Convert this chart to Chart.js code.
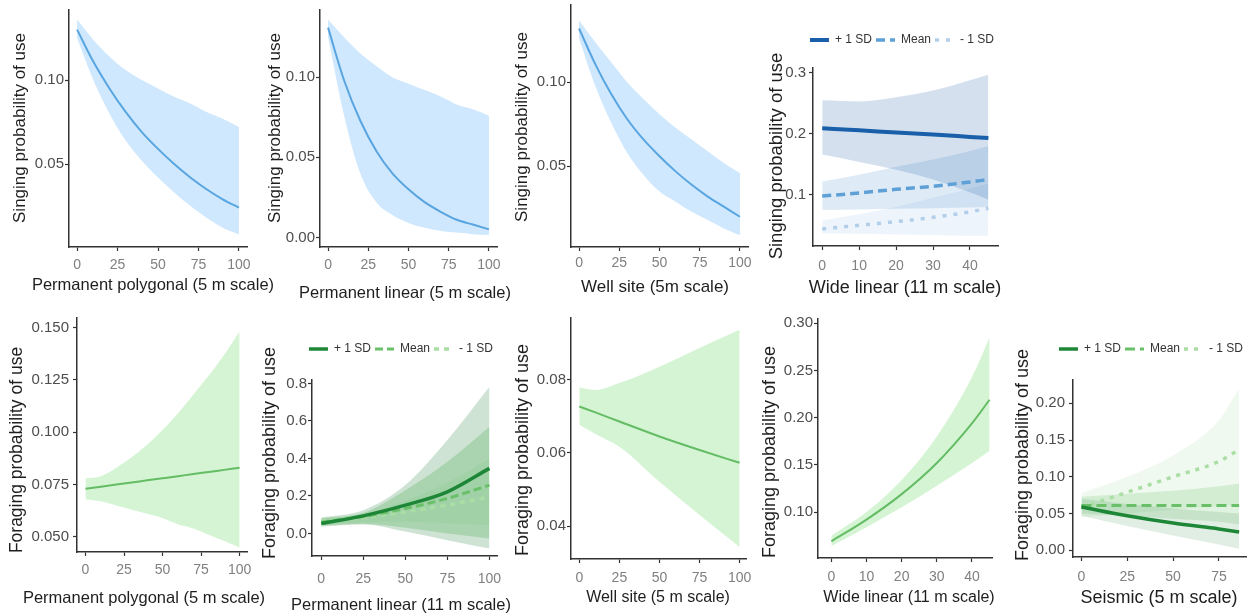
<!DOCTYPE html>
<html><head><meta charset="utf-8">
<script src="https://cdn.jsdelivr.net/npm/chart.js@4/dist/chart.umd.min.js"></script>
<style>
html,body{margin:0;padding:0;background:#fff;}
#wrap{position:relative;width:1247px;height:616px;overflow:hidden;background:#fff}
#wrap canvas{position:absolute;left:0;top:0}
</style></head><body>
<div id="wrap"></div>
<script>
// ================= DATA =================
// text
const legendLabels = ['+ 1 SD', 'Mean', '- 1 SD'];
const yTitleSing = 'Singing probability of use';
const yTitleForage = 'Foraging probability of use';
const xTitles = [
  'Permanent polygonal (5 m scale)', 'Permanent linear (5 m scale)', 'Well site (5m scale)',
  'Wide linear (11 m scale)', 'Permanent polygonal (5 m scale)', 'Permanent linear (11 m scale)',
  'Well site (5 m scale)', 'Wide linear (11 m scale)', 'Seismic (5 m scale)'
];

// tick values
const xTicks100 = [0, 25, 50, 75, 100];
const xTicks40 = [0, 10, 20, 30, 40];
const xTicks75 = [0, 25, 50, 75];
const yTicksP1 = [0.05, 0.10];
const yTicksP2 = [0.00, 0.05, 0.10];
const yTicksP3 = [0.05, 0.10];
const yTicksP4 = [0.1, 0.2, 0.3];
const yTicksP5 = [0.050, 0.075, 0.100, 0.125, 0.150];
const yTicksP6 = [0.0, 0.2, 0.4, 0.6, 0.8];
const yTicksP7 = [0.04, 0.06, 0.08];
const yTicksP8 = [0.10, 0.15, 0.20, 0.25, 0.30];
const yTicksP9 = [0.00, 0.05, 0.10, 0.15, 0.20];

// Panel 1: singing ~ permanent polygonal
const p1X   = [0, 10, 20, 30, 40, 50, 60, 70, 80, 90, 100];
const p1Fit = [0.130, 0.111, 0.095, 0.081, 0.069, 0.059, 0.050, 0.042, 0.035, 0.029, 0.024];
const p1Hi  = [0.136, 0.124, 0.114, 0.106, 0.100, 0.095, 0.090, 0.086, 0.081, 0.077, 0.072];
const p1Lo  = [0.125, 0.100, 0.080, 0.064, 0.052, 0.042, 0.033, 0.025, 0.018, 0.012, 0.008];

// Panel 2: singing ~ permanent linear
const p2X   = [0, 10, 20, 30, 40, 50, 60, 70, 80, 90, 100];
const p2Fit = [0.131, 0.098, 0.073, 0.054, 0.040, 0.030, 0.022, 0.016, 0.011, 0.008, 0.005];
const p2Hi  = [0.136, 0.125, 0.115, 0.107, 0.100, 0.096, 0.092, 0.088, 0.083, 0.080, 0.076];
const p2Lo  = [0.125, 0.076, 0.040, 0.022, 0.014, 0.009, 0.006, 0.004, 0.003, 0.002, 0.0015];

// Panel 3: singing ~ well site
const p3X   = [0, 10, 20, 30, 40, 50, 60, 70, 80, 90, 100];
const p3Fit = [0.132, 0.111, 0.093, 0.078, 0.066, 0.056, 0.047, 0.039, 0.032, 0.026, 0.020];
const p3Hi  = [0.137, 0.124, 0.112, 0.100, 0.090, 0.081, 0.073, 0.066, 0.059, 0.052, 0.046];
const p3Lo  = [0.126, 0.098, 0.076, 0.058, 0.045, 0.035, 0.029, 0.023, 0.018, 0.013, 0.009];

// Panel 4: singing ~ wide linear, by +1 SD / mean / -1 SD
const p4X        = [0, 10, 20, 30, 40, 45];
const p4PlusFit  = [0.209, 0.206, 0.202, 0.199, 0.195, 0.193];
const p4MeanFit  = [0.098, 0.103, 0.109, 0.114, 0.121, 0.125];
const p4MinusFit = [0.044, 0.050, 0.056, 0.063, 0.072, 0.078];
const p4PlusHi   = [0.255, 0.253, 0.260, 0.271, 0.288, 0.297];
const p4PlusLo   = [0.166, 0.154, 0.141, 0.125, 0.104, 0.092];
const p4MeanHi   = [0.122, 0.133, 0.146, 0.158, 0.172, 0.180];
const p4MeanLo   = [0.075, 0.076, 0.077, 0.078, 0.079, 0.080];
const p4MinusHi  = [0.058, 0.068, 0.080, 0.095, 0.110, 0.118];
const p4MinusLo  = [0.037, 0.036, 0.035, 0.034, 0.033, 0.033];

// Panel 5: foraging ~ permanent polygonal
const p5X   = [0, 10, 20, 30, 40, 50, 60, 70, 80, 90, 100];
const p5Fit = [0.073, 0.074, 0.075, 0.076, 0.077, 0.078, 0.079, 0.080, 0.081, 0.082, 0.083];
const p5Hi  = [0.078, 0.079, 0.083, 0.088, 0.094, 0.101, 0.109, 0.118, 0.127, 0.137, 0.148];
const p5Lo  = [0.068, 0.067, 0.065, 0.063, 0.061, 0.059, 0.056, 0.054, 0.051, 0.048, 0.045];

// Panel 6: foraging ~ permanent linear (11 m), by SD groups
const p6X        = [0, 25, 50, 75, 100];
const p6PlusFit  = [0.053, 0.094, 0.151, 0.222, 0.347];
const p6MeanFit  = [0.060, 0.090, 0.133, 0.187, 0.258];
const p6MinusFit = [0.065, 0.085, 0.115, 0.151, 0.195];
const p6PlusHi   = [0.085, 0.124, 0.258, 0.498, 0.782];
const p6PlusLo   = [0.037, 0.048, 0.010, -0.036, -0.080];
const p6MeanHi   = [0.080, 0.110, 0.231, 0.382, 0.569];
const p6MeanLo   = [0.042, 0.052, 0.030, 0.000, -0.027];
const p6MinusHi  = [0.078, 0.105, 0.175, 0.270, 0.400];
const p6MinusLo  = [0.048, 0.060, 0.062, 0.055, 0.045];

// Panel 7: foraging ~ well site
const p7X   = [0, 10, 25, 50, 75, 100];
const p7Fit = [0.0727, 0.0711, 0.0686, 0.0645, 0.0608, 0.0573];
const p7Hi  = [0.0779, 0.0772, 0.0791, 0.0836, 0.0887, 0.0937];
const p7Lo  = [0.0677, 0.0652, 0.0617, 0.0521, 0.0430, 0.0343];

// Panel 8: foraging ~ wide linear
const p8X   = [0, 10, 20, 30, 40, 45];
const p8Fit = [0.069, 0.092, 0.119, 0.152, 0.194, 0.219];
const p8Hi  = [0.075, 0.100, 0.134, 0.180, 0.243, 0.285];
const p8Lo  = [0.064, 0.084, 0.105, 0.128, 0.152, 0.165];

// Panel 9: foraging ~ seismic, by SD groups
const p9X        = [0, 25, 50, 75, 86];
const p9PlusFit  = [0.059, 0.047, 0.037, 0.029, 0.025];
const p9MeanFit  = [0.061, 0.061, 0.061, 0.061, 0.061];
const p9MinusFit = [0.058, 0.079, 0.100, 0.121, 0.137];
const p9PlusHi   = [0.070, 0.063, 0.057, 0.052, 0.050];
const p9PlusLo   = [0.047, 0.033, 0.020, 0.008, 0.002];
const p9MeanHi   = [0.073, 0.077, 0.081, 0.087, 0.091];
const p9MeanLo   = [0.050, 0.047, 0.043, 0.039, 0.035];
const p9MinusHi  = [0.078, 0.100, 0.129, 0.177, 0.220];
const p9MinusLo  = [0.045, 0.050, 0.055, 0.060, 0.062];

// ================= STYLE / BUILD =================
const W = 1247, H = 616;
const NARROW = "'Liberation Sans Narrow','Arial Narrow','Liberation Sans',Arial,sans-serif";
const REG = "'Liberation Sans',Arial,sans-serif";

function pts(xs, ys) { return xs.map((x, i) => ({x: x, y: ys[i]})); }
function lineDs(xs, ys, color, width, dash, label) {
  return {label: label || '', isLine: !!label, data: pts(xs, ys), borderColor: color, backgroundColor: color,
    borderWidth: width, borderDash: dash || [], pointRadius: 0, fill: false,
    cubicInterpolationMode: 'monotone'};
}
function bandDs(xs, lo, hi, color) {
  return [
    {data: pts(xs, hi), borderWidth: 0, borderColor: 'rgba(0,0,0,0)', backgroundColor: color, pointRadius: 0, fill: '+1', cubicInterpolationMode: 'monotone'},
    {data: pts(xs, lo), borderWidth: 0, borderColor: 'rgba(0,0,0,0)', backgroundColor: color, pointRadius: 0, fill: false, cubicInterpolationMode: 'monotone'}
  ];
}

const singLine = 'rgb(88,165,225)', singBand = 'rgba(130,195,250,0.38)';
const forLine = 'rgb(100,188,100)', forBand = 'rgba(120,220,120,0.32)';

const blueP = 'rgb(25,95,170)', blueM = 'rgb(95,160,215)', blueL = 'rgb(178,206,233)';
const greenP = 'rgb(30,135,55)', greenM = 'rgb(105,192,105)', greenL = 'rgb(170,222,165)';

const panels = [
  {L: 69, T: 10, R: 247, B: 247, xMin: -5, xMax: 105, yMin: 0.0006, yMax: 0.1417, xTicks: xTicks100, yTicks: yTicksP1, yDec: 2,
   xTickPad: 6, yTickPad: 1, xt: {text: xTitles[0], cx: 153, cy: 285, size: 16.5}, yt: {text: yTitleSing, cx: 20, cy: 128, size: 17},
   datasets: [lineDs(p1X, p1Fit, singLine, 2), ...bandDs(p1X, p1Lo, p1Hi, singBand)]},
  {L: 320, T: 10, R: 497, B: 247, xMin: -5, xMax: 105, yMin: -0.006, yMax: 0.142, xTicks: xTicks100, yTicks: yTicksP2, yDec: 2,
   xTickPad: 6, yTickPad: 1, xt: {text: xTitles[1], cx: 405, cy: 293, size: 16.5}, yt: {text: yTitleSing, cx: 275, cy: 128, size: 17},
   datasets: [lineDs(p2X, p2Fit, singLine, 2), ...bandDs(p2X, p2Lo, p2Hi, singBand)]},
  {L: 571, T: 5, R: 748, B: 247, xMin: -5, xMax: 105, yMin: 0.002, yMax: 0.146, xTicks: xTicks100, yTicks: yTicksP3, yDec: 2,
   xTickPad: 4, yTickPad: 1, xt: {text: xTitles[2], cx: 655, cy: 287, size: 17}, yt: {text: yTitleSing, cx: 522, cy: 127, size: 17},
   datasets: [lineDs(p3X, p3Fit, singLine, 2), ...bandDs(p3X, p3Lo, p3Hi, singBand)]},
  {L: 813, T: 68, R: 998, B: 246, xMin: -2.5, xMax: 47.6, yMin: 0.016, yMax: 0.308, xTicks: xTicks40, yTicks: yTicksP4, yDec: 1,
   xTickPad: 8, yTickPad: 3, legendCenter: 40, xt: {text: xTitles[3], cx: 905, cy: 288, size: 18}, yt: {text: yTitleSing, cx: 777, cy: 156, size: 18.5},
   datasets: [lineDs(p4X, p4PlusFit, blueP, 4, [], legendLabels[0]), lineDs(p4X, p4MeanFit, blueM, 3.5, [9, 5], legendLabels[1]),
     lineDs(p4X, p4MinusFit, blueL, 3.5, [4, 7], legendLabels[2]),
     ...bandDs(p4X, p4PlusLo, p4PlusHi, 'rgba(40,100,170,0.2)'), ...bandDs(p4X, p4MeanLo, p4MeanHi, 'rgba(90,150,210,0.2)'),
     ...bandDs(p4X, p4MinusLo, p4MinusHi, 'rgba(150,190,230,0.17)')]},
  {L: 77, T: 318, R: 247, B: 552, xMin: -5.5, xMax: 104.8, yMin: 0.0428, yMax: 0.1545, xTicks: xTicks100, yTicks: yTicksP5, yDec: 3,
   xTickPad: 6, yTickPad: 4, xt: {text: xTitles[4], cx: 144, cy: 598, size: 16.5}, yt: {text: yTitleForage, cx: 17, cy: 450, size: 17.5},
   datasets: [lineDs(p5X, p5Fit, forLine, 2), ...bandDs(p5X, p5Lo, p5Hi, forBand)]},
  {L: 312, T: 380, R: 497, B: 556, xMin: -5.5, xMax: 104.5, yMin: -0.12, yMax: 0.818, xTicks: xTicks100, yTicks: yTicksP6, yDec: 1,
   xTickPad: 11, yTickPad: 1, legendCenter: 349, xt: {text: xTitles[5], cx: 401, cy: 605, size: 16.5}, yt: {text: yTitleForage, cx: 270, cy: 453, size: 18},
   datasets: [lineDs(p6X, p6PlusFit, greenP, 3.5, [], legendLabels[0]), lineDs(p6X, p6MeanFit, greenM, 3, [8, 4], legendLabels[1]),
     lineDs(p6X, p6MinusFit, greenL, 3.5, [5, 5], legendLabels[2]),
     ...bandDs(p6X, p6PlusLo, p6PlusHi, 'rgba(50,140,70,0.24)'), ...bandDs(p6X, p6MeanLo, p6MeanHi, 'rgba(100,190,100,0.3)'),
     ...bandDs(p6X, p6MinusLo, p6MinusHi, 'rgba(170,225,170,0.2)')]},
  {L: 571, T: 318, R: 746, B: 559, xMin: -5.2, xMax: 104, yMin: 0.031, yMax: 0.0969, xTicks: xTicks100, yTicks: yTicksP7, yDec: 2,
   xTickPad: 7, yTickPad: 1, xt: {text: xTitles[6], cx: 658, cy: 598, size: 16}, yt: {text: yTitleForage, cx: 523, cy: 450, size: 18},
   datasets: [lineDs(p7X, p7Fit, forLine, 2), ...bandDs(p7X, p7Lo, p7Hi, forBand)]},
  {L: 818, T: 319, R: 992, B: 558, xMin: -3.8, xMax: 45.7, yMin: 0.0513, yMax: 0.3046, xTicks: xTicks40, yTicks: yTicksP8, yDec: 2,
   xTickPad: 7, yTickPad: 1, xt: {text: xTitles[7], cx: 909, cy: 598, size: 16}, yt: {text: yTitleForage, cx: 770, cy: 452, size: 18},
   datasets: [lineDs(p8X, p8Fit, forLine, 2), ...bandDs(p8X, p8Lo, p8Hi, forBand)]},
  {L: 1073, T: 380, R: 1247, B: 557, xMin: -4.6, xMax: 90.3, yMin: -0.0091, yMax: 0.2316, xTicks: xTicks75, yTicks: yTicksP9, yDec: 2,
   xTickPad: 8, yTickPad: 4, legendCenter: 349, xt: {text: xTitles[8], cx: 1159, cy: 598, size: 18}, yt: {text: yTitleForage, cx: 1023, cy: 455, size: 18},
   datasets: [lineDs(p9X, p9PlusFit, greenP, 3.5, [], legendLabels[0]), lineDs(p9X, p9MeanFit, greenM, 3, [10, 5], legendLabels[1]),
     lineDs(p9X, p9MinusFit, greenL, 3.5, [4, 6], legendLabels[2]),
     ...bandDs(p9X, p9PlusLo, p9PlusHi, 'rgba(50,140,70,0.15)'), ...bandDs(p9X, p9MeanLo, p9MeanHi, 'rgba(100,190,100,0.2)'),
     ...bandDs(p9X, p9MinusLo, p9MinusHi, 'rgba(150,215,150,0.15)')]}
];

const axisTitlePlugin = {
  id: 'axisTitles',
  afterDraw(chart, args, opts) {
    const ctx = chart.ctx;
    ctx.save();
    ctx.fillStyle = '#1e1e1e';
    ctx.textAlign = 'center';
    ctx.textBaseline = 'middle';
    ctx.font = opts.xt.size + 'px ' + REG;
    ctx.fillText(opts.xt.text, opts.xt.cx, opts.xt.cy);
    ctx.translate(opts.yt.cx, opts.yt.cy);
    ctx.rotate(-Math.PI / 2);
    ctx.font = opts.yt.size + 'px ' + REG;
    ctx.fillText(opts.yt.text, 0, 0);
    ctx.restore();
  }
};

const wrap = document.getElementById('wrap');
panels.forEach((p) => {
  const c = document.createElement('canvas');
  c.width = W; c.height = H;
  c.style.width = W + 'px'; c.style.height = H + 'px';
  wrap.appendChild(c);
  const yw = 60, xh = 40;
  const legFont = 12, legPad = 4;
  const hasLeg = p.legendCenter !== undefined;
  let padTop = p.T, spacer = 1;
  if (hasLeg) {
    padTop = p.legendCenter - legPad - legFont / 2;
    spacer = p.T - (padTop + legFont + legPad + 10);
  }
  new Chart(c, {
    type: 'line',
    data: {datasets: p.datasets},
    options: {
      responsive: false, animation: false, events: [],
      layout: {padding: {left: p.L - yw, right: W - p.R, top: padTop, bottom: H - p.B - xh}},
      plugins: {
        tooltip: {enabled: false},
        legend: {
          display: hasLeg, position: 'top', align: 'end',
          labels: {
            usePointStyle: true, pointStyle: 'line', pointStyleWidth: 19, padding: legPad,
            color: '#333', font: {family: NARROW, size: legFont},
            generateLabels: (chart) => chart.data.datasets.map((d, i) => d.isLine ? {
              text: d.label, datasetIndex: i, strokeStyle: d.borderColor, fillStyle: d.borderColor,
              lineWidth: d.borderWidth, lineDash: d.borderDash, pointStyle: 'line', hidden: false, fontColor: '#333'
            } : null).filter(Boolean)
          }
        },
        title: {display: hasLeg, text: '', weight: 100, padding: 0, font: {size: Math.max(spacer, 1), lineHeight: 1}},
        axisTitles: {xt: p.xt, yt: p.yt}
      },
      scales: {
        x: {
          type: 'linear', position: 'bottom', min: p.xMin, max: p.xMax, bounds: 'data',
          afterBuildTicks: (s) => { s.ticks = p.xTicks.map((v) => ({value: v})); },
          afterFit: (s) => { s.height = xh; s.paddingLeft = 0; s.paddingRight = 0; },
          ticks: {autoSkip: false, maxRotation: 0, minRotation: 0, padding: p.xTickPad, color: '#808080',
            font: {family: NARROW, size: 14}, callback: (v) => String(v)},
          grid: {display: true, drawOnChartArea: false, drawTicks: true, tickLength: 4, tickColor: '#333', tickWidth: 1.2},
          border: {display: true, color: '#333', width: 1.5}
        },
        y: {
          type: 'linear', position: 'left', min: p.yMin, max: p.yMax, bounds: 'data',
          afterBuildTicks: (s) => { s.ticks = p.yTicks.map((v) => ({value: v})); },
          afterFit: (s) => { s.width = yw; s.paddingTop = 0; s.paddingBottom = 0; },
          ticks: {autoSkip: false, padding: p.yTickPad, color: '#4d4d4d',
            font: {family: NARROW, size: 15}, callback: (v) => Number(v).toFixed(p.yDec)},
          grid: {display: true, drawOnChartArea: false, drawTicks: true, tickLength: 4, tickColor: '#333', tickWidth: 1.2},
          border: {display: true, color: '#333', width: 1.5}
        }
      }
    },
    plugins: [axisTitlePlugin]
  });
});
</script>
</body></html>
